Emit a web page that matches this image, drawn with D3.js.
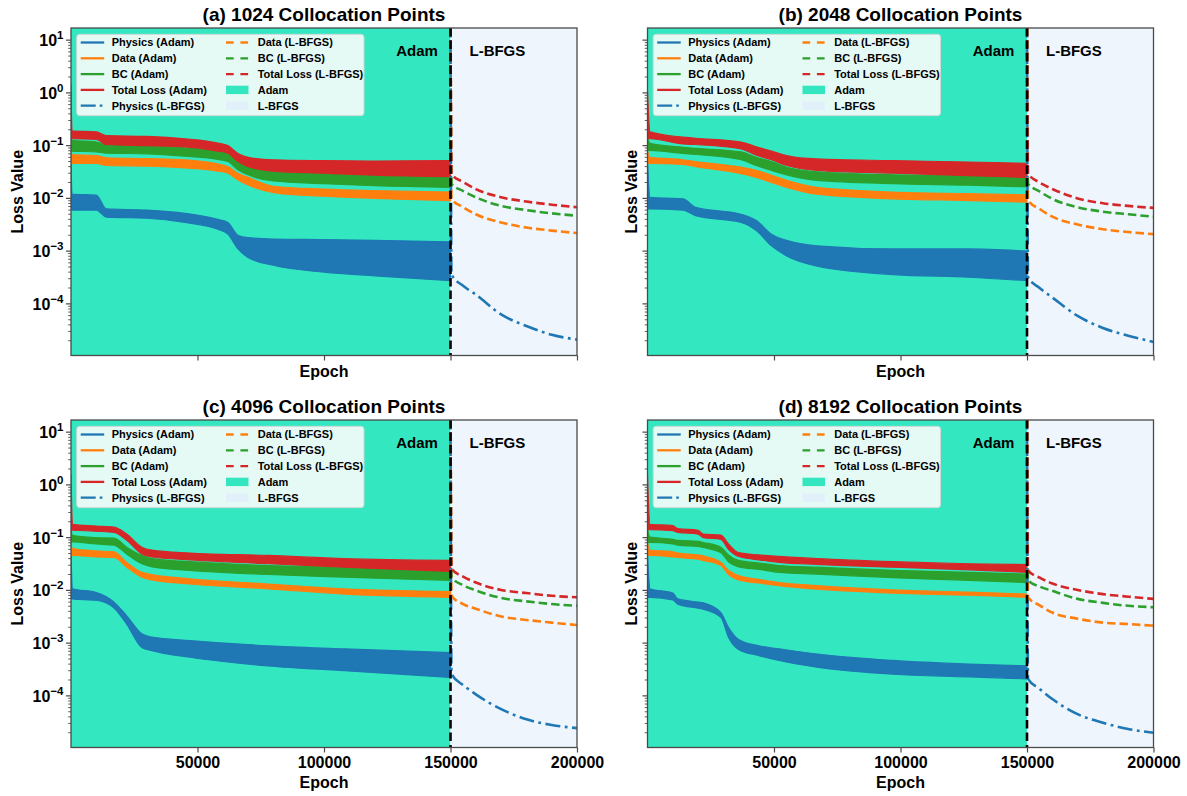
<!DOCTYPE html>
<html>
<head>
<meta charset="utf-8">
<script src="https://cdn.jsdelivr.net/npm/d3@7"></script>
<style>
  body { margin: 0; background: #fff; }
  svg { display: block; font-family: 'Liberation Sans', Arial, sans-serif; }
</style>
</head>
<body>
<svg id="chart" width="1187" height="796"></svg>
<script>
/* global d3 */

const titles = [
  '(a) 1024 Collocation Points',
  '(b) 2048 Collocation Points',
  '(c) 4096 Collocation Points',
  '(d) 8192 Collocation Points',
];
const epochTicks = [50000, 100000, 150000, 200000];
const decadeTicks = [1, 0, -1, -2, -3, -4];
const switchEpoch = 150000;
const seriesNames = ['Physics', 'Data', 'BC', 'Total Loss'];
const seriesColors = ['#1f77b4', '#ff7f0e', '#2ca02c', '#d62728'];

// Adam phase: epoch, then [low, high] of each noisy band
// columns: epoch, physLo, physHi, dataLo, dataHi, bcLo, bcHi, totLo, totHi
const adamA = [
  [0, 0.0078, 0.052, 0.046, 0.08, 0.08, 0.14, 0.135, 1.5],
  [400, 0.006, 0.012, 0.046, 0.068, 0.079, 0.126, 0.135, 0.19],
  [10000, 0.006, 0.0115, 0.046, 0.065, 0.076, 0.117, 0.132, 0.182],
  [14000, 0.0044, 0.0063, 0.042, 0.059, 0.072, 0.105, 0.105, 0.155],
  [30000, 0.0042, 0.006, 0.041, 0.057, 0.07, 0.1, 0.1, 0.15],
  [45000, 0.0035, 0.0052, 0.038, 0.054, 0.063, 0.091, 0.095, 0.135],
  [58000, 0.0026, 0.004, 0.033, 0.045, 0.055, 0.079, 0.079, 0.112],
  [62000, 0.0021, 0.0035, 0.03, 0.04, 0.05, 0.072, 0.072, 0.1],
  [66000, 0.0011, 0.002, 0.0224, 0.03, 0.035, 0.05, 0.05, 0.071],
  [70000, 0.00076, 0.0018, 0.018, 0.025, 0.028, 0.041, 0.04, 0.06],
  [80000, 0.00054, 0.0017, 0.0129, 0.017, 0.0214, 0.034, 0.033, 0.054],
  [100000, 0.0004, 0.00166, 0.011, 0.015, 0.019, 0.03, 0.03, 0.052],
  [120000, 0.00034, 0.0016, 0.01, 0.014, 0.0174, 0.028, 0.0275, 0.051],
  [150000, 0.000275, 0.0015, 0.0091, 0.0132, 0.0162, 0.0257, 0.0257, 0.052],
];
const adamB = [
  [0, 0.0063, 0.052, 0.046, 0.08, 0.081, 0.14, 0.135, 1.1],
  [1000, 0.0063, 0.0105, 0.046, 0.06, 0.081, 0.11, 0.135, 0.182],
  [14000, 0.006, 0.0098, 0.044, 0.054, 0.071, 0.093, 0.108, 0.145],
  [19000, 0.0047, 0.0068, 0.04, 0.05, 0.068, 0.089, 0.105, 0.138],
  [37000, 0.0035, 0.005, 0.0295, 0.039, 0.054, 0.076, 0.087, 0.117],
  [43000, 0.00245, 0.0038, 0.025, 0.034, 0.042, 0.06, 0.066, 0.095],
  [49000, 0.00126, 0.0021, 0.02, 0.0275, 0.034, 0.05, 0.054, 0.079],
  [55000, 0.00081, 0.0016, 0.0162, 0.022, 0.028, 0.039, 0.042, 0.065],
  [67000, 0.00052, 0.00126, 0.012, 0.0162, 0.022, 0.032, 0.034, 0.056],
  [97000, 0.00036, 0.0011, 0.0098, 0.0132, 0.019, 0.028, 0.03, 0.052],
  [127000, 0.00032, 0.0011, 0.0091, 0.0123, 0.0178, 0.027, 0.027, 0.049],
  [150000, 0.000275, 0.001, 0.0085, 0.0117, 0.0166, 0.0257, 0.025, 0.046],
];
const adamC = [
  [0, 0.007, 0.05, 0.046, 0.08, 0.083, 0.15, 0.138, 1.6],
  [600, 0.0069, 0.0107, 0.046, 0.062, 0.083, 0.11, 0.138, 0.178],
  [10000, 0.0065, 0.0091, 0.043, 0.056, 0.076, 0.1, 0.132, 0.166],
  [17000, 0.0046, 0.006, 0.042, 0.054, 0.072, 0.098, 0.126, 0.158],
  [22000, 0.0023, 0.0033, 0.0275, 0.034, 0.049, 0.066, 0.089, 0.117],
  [28000, 0.00083, 0.0015, 0.0178, 0.022, 0.032, 0.046, 0.049, 0.066],
  [32000, 0.00072, 0.0013, 0.0158, 0.02, 0.028, 0.04, 0.043, 0.058],
  [47000, 0.00054, 0.00112, 0.0132, 0.0166, 0.024, 0.035, 0.038, 0.051],
  [78000, 0.00037, 0.00089, 0.0107, 0.0132, 0.02, 0.0295, 0.032, 0.046],
  [108000, 0.0003, 0.00078, 0.0085, 0.0107, 0.0178, 0.0275, 0.0275, 0.04],
  [150000, 0.000224, 0.00066, 0.0074, 0.0095, 0.0155, 0.024, 0.023, 0.037],
];
const adamD = [
  [0, 0.0074, 0.05, 0.046, 0.08, 0.081, 0.14, 0.141, 1.5],
  [1000, 0.0074, 0.0107, 0.046, 0.058, 0.081, 0.102, 0.141, 0.178],
  [10000, 0.0066, 0.0089, 0.043, 0.054, 0.076, 0.093, 0.135, 0.17],
  [12000, 0.0055, 0.0069, 0.042, 0.051, 0.072, 0.089, 0.126, 0.148],
  [20000, 0.0046, 0.006, 0.039, 0.047, 0.068, 0.085, 0.117, 0.138],
  [22000, 0.0044, 0.0058, 0.037, 0.045, 0.065, 0.081, 0.1, 0.117],
  [29000, 0.0031, 0.0038, 0.0295, 0.034, 0.052, 0.066, 0.093, 0.112],
  [32000, 0.0013, 0.002, 0.02, 0.024, 0.035, 0.047, 0.06, 0.076],
  [36000, 0.00076, 0.00117, 0.0158, 0.019, 0.028, 0.037, 0.044, 0.052],
  [44000, 0.00058, 0.00089, 0.0138, 0.0162, 0.025, 0.033, 0.038, 0.047],
  [52000, 0.00047, 0.00078, 0.0123, 0.0141, 0.022, 0.0295, 0.034, 0.044],
  [67000, 0.00035, 0.00062, 0.0105, 0.0123, 0.0204, 0.0275, 0.031, 0.04],
  [97000, 0.000257, 0.00047, 0.0089, 0.0102, 0.0174, 0.024, 0.0275, 0.035],
  [127000, 0.00023, 0.0004, 0.0081, 0.0093, 0.0155, 0.022, 0.0245, 0.032],
  [150000, 0.00021, 0.00037, 0.0074, 0.0085, 0.0141, 0.0204, 0.022, 0.031],
];

// L-BFGS phase: epoch, physics, data, bc, total (first row starts above the frame)
const lbfgsA = [
  [150000, 30, 30, 30, 30],
  [150400, 0.00036, 0.0098, 0.019, 0.029],
  [155000, 0.00022, 0.0068, 0.0138, 0.0204],
  [160000, 0.00015, 0.005, 0.0105, 0.015],
  [170000, 0.000063, 0.0035, 0.0072, 0.0105],
  [180000, 0.000038, 0.0028, 0.006, 0.0087],
  [190000, 0.000026, 0.00245, 0.0052, 0.0076],
  [200000, 0.000021, 0.0022, 0.0047, 0.0068],
];
const lbfgsB = [
  [150000, 30, 30, 30, 30],
  [150400, 0.00032, 0.0091, 0.019, 0.0295],
  [155000, 0.0002, 0.0063, 0.0135, 0.02],
  [160000, 0.000132, 0.0045, 0.0098, 0.0151],
  [170000, 0.000059, 0.0032, 0.0068, 0.01],
  [180000, 0.000035, 0.0026, 0.0056, 0.0081],
  [190000, 0.000025, 0.0023, 0.005, 0.0072],
  [200000, 0.000019, 0.0021, 0.0045, 0.0066],
];
const lbfgsC = [
  [150000, 30, 30, 30, 30],
  [150400, 0.00026, 0.0079, 0.0178, 0.0257],
  [155000, 0.00016, 0.0055, 0.0125, 0.0182],
  [160000, 0.000107, 0.0045, 0.01, 0.0141],
  [170000, 0.000056, 0.0032, 0.0072, 0.0102],
  [180000, 0.000036, 0.00275, 0.0062, 0.0089],
  [190000, 0.000028, 0.00245, 0.0055, 0.0079],
  [200000, 0.0000245, 0.0022, 0.0051, 0.0074],
];
const lbfgsD = [
  [150000, 30, 30, 30, 30],
  [150400, 0.00021, 0.0074, 0.0155, 0.024],
  [155000, 0.000135, 0.0052, 0.0118, 0.0174],
  [160000, 0.000087, 0.0038, 0.0098, 0.0135],
  [170000, 0.000045, 0.0029, 0.0069, 0.0102],
  [180000, 0.000031, 0.00245, 0.0058, 0.0085],
  [190000, 0.0000235, 0.0023, 0.0051, 0.0076],
  [200000, 0.00002, 0.00214, 0.0048, 0.0069],
];

const adamTables = [adamA, adamB, adamC, adamD];
const lbfgsTables = [lbfgsA, lbfgsB, lbfgsC, lbfgsD];

const legendItems = [
  { label: 'Physics (Adam)', kind: 'line', color: seriesColors[0] },
  { label: 'Data (Adam)', kind: 'line', color: seriesColors[1] },
  { label: 'BC (Adam)', kind: 'line', color: seriesColors[2] },
  { label: 'Total Loss (Adam)', kind: 'line', color: seriesColors[3] },
  { label: 'Physics (L-BFGS)', kind: 'dashdot', color: seriesColors[0] },
  { label: 'Data (L-BFGS)', kind: 'dash', color: seriesColors[1] },
  { label: 'BC (L-BFGS)', kind: 'dash', color: seriesColors[2] },
  { label: 'Total Loss (L-BFGS)', kind: 'dash', color: seriesColors[3] },
  { label: 'Adam', kind: 'patch', color: '#33e6bf' },
  { label: 'L-BFGS', kind: 'patch', color: '#e2f0fa' },
];

const adamFill = '#33e7c0';
const lbfgsFill = '#eef5fd';
const spineColor = '#4a4a4a';

const svg = d3.select('#chart');
const plotW = 506;
const plotH = 327.5;
const lefts = [71, 647.5];
const tops = [28, 420];

const drawPanel = (idx) => {
  const col = idx % 2;
  const row = Math.floor(idx / 2);
  const g = svg.append('g')
    .attr('transform', `translate(${lefts[col]},${tops[row]})`);

  const x = d3.scaleLinear().domain([0, 200000]).range([0, plotW]);
  const y = d3.scaleLog().domain([1.05e-5, 17]).range([plotH, 0]);

  const clipId = `clip${idx}`;
  g.append('clipPath').attr('id', clipId)
    .append('rect').attr('width', plotW).attr('height', plotH);

  const plot = g.append('g').attr('clip-path', `url(#${clipId})`);

  // phase backgrounds
  plot.append('rect')
    .attr('x', x(0)).attr('y', 0)
    .attr('width', x(switchEpoch) - x(0)).attr('height', plotH)
    .attr('fill', adamFill);
  plot.append('rect')
    .attr('x', x(switchEpoch)).attr('y', 0)
    .attr('width', x(200000) - x(switchEpoch)).attr('height', plotH)
    .attr('fill', lbfgsFill);

  // Adam bands
  const adam = adamTables[idx];
  seriesNames.forEach((name, s) => {
    const band = d3.area()
      .x((d) => x(d[0]))
      .y0((d) => y(d[1 + s * 2]))
      .y1((d) => y(d[2 + s * 2]))
      .curve(d3.curveMonotoneX);
    plot.append('path')
      .datum(adam)
      .attr('d', band)
      .attr('fill', seriesColors[s])
      .attr('stroke', seriesColors[s])
      .attr('stroke-width', 1.2);
  });

  // L-BFGS lines
  const lbfgs = lbfgsTables[idx];
  seriesNames.forEach((name, s) => {
    const line = d3.line()
      .x((d) => x(d[0]))
      .y((d) => y(d[1 + s]))
      .curve(d3.curveMonotoneX);
    plot.append('path')
      .datum(lbfgs)
      .attr('d', line)
      .attr('fill', 'none')
      .attr('stroke', seriesColors[s])
      .attr('stroke-width', 2.6)
      .attr('stroke-dasharray', s === 0 ? '15,4.5,2.8,4.5' : '8.5,4');
  });

  // switch line
  plot.append('line')
    .attr('x1', x(switchEpoch)).attr('x2', x(switchEpoch))
    .attr('y1', 0).attr('y2', plotH)
    .attr('stroke', '#000')
    .attr('stroke-width', 2.6)
    .attr('stroke-dasharray', '8.5,4');

  // phase labels
  g.append('text')
    .attr('x', x(145000)).attr('y', 28)
    .attr('text-anchor', 'end')
    .style('font-size', '15px').style('font-weight', 'bold')
    .text('Adam');
  g.append('text')
    .attr('x', x(157500)).attr('y', 28)
    .style('font-size', '15px').style('font-weight', 'bold')
    .text('L-BFGS');

  // frame
  g.append('rect')
    .attr('width', plotW).attr('height', plotH)
    .attr('fill', 'none')
    .attr('stroke', spineColor)
    .attr('stroke-width', 1.3);

  // x axis
  const xAxis = d3.axisBottom(x)
    .tickValues(epochTicks)
    .tickSize(5)
    .tickPadding(4)
    .tickFormat((d) => (row === 1 ? d : ''));
  const xg = g.append('g')
    .attr('transform', `translate(0,${plotH})`)
    .call(xAxis);
  xg.select('.domain').remove();
  xg.selectAll('line').attr('stroke', spineColor).attr('stroke-width', 1.2);
  xg.selectAll('text')
    .attr('fill', '#000')
    .style('font-size', '16px')
    .style('font-weight', 'bold')
    .style('font-family', "'Liberation Sans', Arial, sans-serif");

  // y axis: decades and minor ticks
  const majors = decadeTicks.map((e) => 10 ** e);
  const minors = [];
  [-5, -4, -3, -2, -1, 0].forEach((e) => {
    d3.range(2, 10).forEach((k) => {
      const v = k * 10 ** e;
      if (v >= y.domain()[0] && v <= y.domain()[1]) minors.push(v);
    });
  });
  const yg = g.append('g');
  yg.selectAll('line.major').data(majors).join('line')
    .attr('class', 'major')
    .attr('x1', -5).attr('x2', 0)
    .attr('y1', (d) => y(d)).attr('y2', (d) => y(d))
    .attr('stroke', spineColor).attr('stroke-width', 1.2);
  yg.selectAll('line.minor').data(minors).join('line')
    .attr('class', 'minor')
    .attr('x1', -2.8).attr('x2', 0)
    .attr('y1', (d) => y(d)).attr('y2', (d) => y(d))
    .attr('stroke', spineColor).attr('stroke-width', 0.9);

  if (col === 0) {
    const labels = yg.selectAll('text.dec').data(decadeTicks).join('text')
      .attr('class', 'dec')
      .attr('x', -7.5)
      .attr('y', (d) => y(10 ** d) + 6)
      .attr('text-anchor', 'end')
      .style('font-weight', 'bold');
    labels.append('tspan').style('font-size', '16px').text('10');
    labels.append('tspan')
      .attr('dy', -7)
      .style('font-size', '11.5px')
      .text((d) => (d < 0 ? `\u2212${-d}` : `${d}`));
  }

  // axis titles
  g.append('text')
    .attr('transform', `translate(${col === 0 ? -48 : -11} ${plotH / 2})rotate(-90)`)
    .attr('text-anchor', 'middle')
    .style('font-size', '16px').style('font-weight', 'bold')
    .text('Loss Value');
  g.append('text')
    .attr('x', plotW / 2)
    .attr('y', plotH + (row === 1 ? 40.5 : 21.3))
    .attr('text-anchor', 'middle')
    .style('font-size', '16px').style('font-weight', 'bold')
    .text('Epoch');

  // title
  g.append('text')
    .attr('x', plotW / 2).attr('y', -7.5)
    .attr('text-anchor', 'middle')
    .style('font-size', '19px').style('font-weight', 'bold')
    .text(titles[idx]);

  // legend
  const legend = g.append('g').attr('transform', 'translate(5.7,6.3)');
  legend.append('rect')
    .attr('width', 287.3).attr('height', 81.4)
    .attr('rx', 3)
    .attr('fill', '#e6faf5')
    .attr('stroke', '#cfd8d5')
    .attr('stroke-width', 1);

  legendItems.forEach((item, i) => {
    const c = Math.floor(i / 5);
    const r = i % 5;
    const hx = c === 0 ? 4 : 149.3;
    const tx = c === 0 ? 35 : 181;
    const cy = 8.2 + r * 15.8;
    if (item.kind === 'patch') {
      legend.append('rect')
        .attr('x', hx).attr('y', cy - 4.2)
        .attr('width', 22.5).attr('height', 8.4)
        .attr('fill', item.color);
    } else {
      let dash = null;
      if (item.kind === 'dash') dash = '7.7,6.7';
      if (item.kind === 'dashdot') dash = '15,4,2.7,4';
      legend.append('line')
        .attr('x1', hx).attr('x2', hx + 23.5)
        .attr('y1', cy).attr('y2', cy)
        .attr('stroke', item.color)
        .attr('stroke-width', 2.3)
        .attr('stroke-dasharray', dash);
    }
    legend.append('text')
      .attr('x', tx).attr('y', cy + 4)
      .style('font-size', '11px').style('font-weight', 'bold')
      .text(item.label);
  });
};

[0, 1, 2, 3].forEach(drawPanel);
</script>
</body>
</html>
